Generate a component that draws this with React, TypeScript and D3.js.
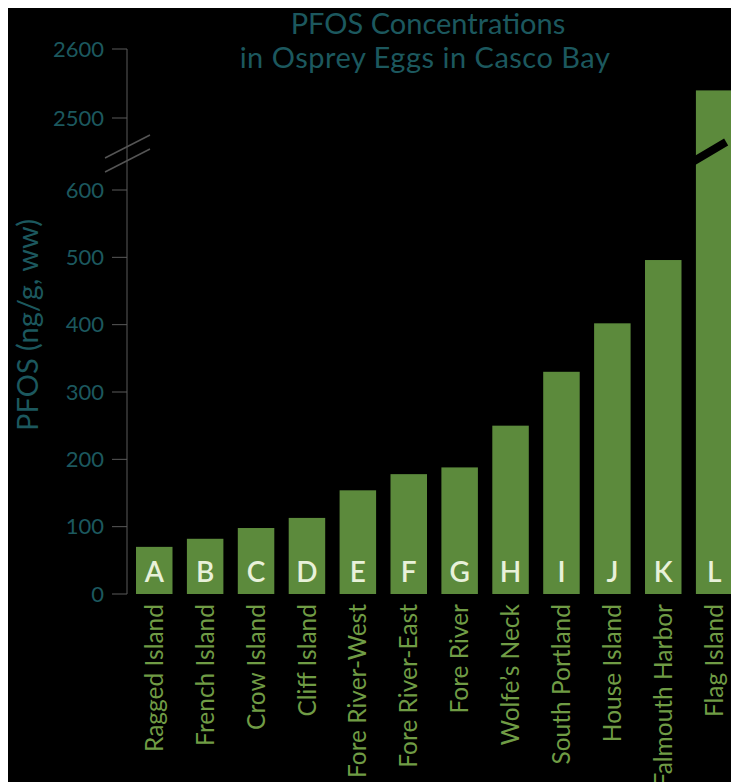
import * as d3 from 'd3';
import React from 'react';

// chart data
const letters = ['A', 'B', 'C', 'D', 'E', 'F', 'G', 'H', 'I', 'J', 'K', 'L'];
const sites = [
  'Ragged Island',
  'French Island',
  'Crow Island',
  'Cliff Island',
  'Fore River-West',
  'Fore River-East',
  'Fore River',
  'Wolfe\u2019s Neck',
  'South Portland',
  'House Island',
  'Falmouth Harbor',
  'Flag Island',
];
const pfos = [70, 82, 98, 113, 154, 178, 188, 250, 330, 402, 496, 2540];
const lowTicks = [0, 100, 200, 300, 400, 500, 600];
const highTicks = [2500, 2600];

const width = 723;
const height = 774;
const axisX = 119;
const font = 'Lato, "Open Sans", sans-serif';
const teal = '#1c585e';
const barColor = '#5c8a3c';
const labelColor = '#709c45';

const App: React.FC = () => {
  // broken y axis: two linear segments
  const yLow = d3.scaleLinear().domain([0, 600]).range([586, 182]);
  const yHigh = d3.scaleLinear().domain([2500, 2600]).range([110, 41]);
  const y = (v: number) => (v <= 600 ? yLow(v) : yHigh(v));

  const x = d3.scaleBand<string>()
    .domain(letters)
    .range([128, 724.4])
    .paddingInner(0.283)
    .paddingOuter(0);

  const lastX = x(letters[letters.length - 1])! + x.bandwidth() / 2;
  const breakY = (yLow(600) + yHigh(2500)) / 2;

  return (
    <div style={{ position: 'fixed', top: 8, left: 8 }}>
      <svg width={width} height={height} style={{ display: 'block', background: '#000' }}>
        {/* title */}
        <text x={420} y={26} textAnchor="middle" fill={teal} fontFamily={font} fontSize={29}>
          PFOS Concentrations
        </text>
        <text x={417} y={60} textAnchor="middle" fill={teal} fontFamily={font} fontSize={29} letterSpacing={0.5}>
          in Osprey Eggs in Casco Bay
        </text>

        {/* y axis title */}
        <text
          transform={`translate(30,${317}) rotate(-90)`}
          textAnchor="middle"
          fill={teal}
          fontFamily={font}
          fontSize={29}
        >
          PFOS (ng/g, ww)
        </text>

        {/* axis line and ticks */}
        <line x1={axisX} x2={axisX} y1={yHigh(2600)} y2={yLow(0)} stroke="#5a5a5a" strokeWidth={1} />
        {[...lowTicks.map(t => ({ t, py: yLow(t) })), ...highTicks.map(t => ({ t, py: yHigh(t) }))].map(({ t, py }) => (
          <g key={t}>
            <line x1={axisX - 15} x2={axisX} y1={py} y2={py} stroke="#5a5a5a" strokeWidth={1} />
            <text
              x={axisX - 23}
              y={py}
              dy="0.35em"
              textAnchor="end"
              fill={teal}
              fontFamily={font}
              fontSize={22}
            >
              {t}
            </text>
          </g>
        ))}

        {/* axis break marks */}
        <line x1={97} y1={breakY + 4} x2={142} y2={breakY - 19} stroke="#555" strokeWidth={1.5} />
        <line x1={97} y1={breakY + 18} x2={142} y2={breakY - 5} stroke="#555" strokeWidth={1.5} />

        {/* bars */}
        {pfos.map((v, i) => (
          <rect
            key={letters[i]}
            x={x(letters[i])}
            y={y(v)}
            width={x.bandwidth()}
            height={yLow(0) - y(v)}
            fill={barColor}
          />
        ))}

        {/* break stripe on the tall bar */}
        <line
          x1={lastX - 37}
          y1={breakY + 17}
          x2={lastX + 12}
          y2={breakY - 12}
          stroke="#000"
          strokeWidth={8}
        />

        {/* letters in bars */}
        {letters.map(l => (
          <text
            key={l}
            x={x(l)! + x.bandwidth() / 2}
            y={574}
            textAnchor="middle"
            fill="#e8f1da"
            fontFamily={font}
            fontWeight={600}
            fontSize={28}
          >
            {l}
          </text>
        ))}

        {/* site labels */}
        {sites.map((s, i) => {
          const cx = x(letters[i])! + x.bandwidth() / 2;
          return (
            <text
              key={s}
              transform={`translate(${cx},596) rotate(-90)`}
              dy="0.35em"
              textAnchor="end"
              fill={labelColor}
              fontFamily={font}
              fontSize={24.5}
            >
              {s}
            </text>
          );
        })}
      </svg>
    </div>
  );
};

export default App;
